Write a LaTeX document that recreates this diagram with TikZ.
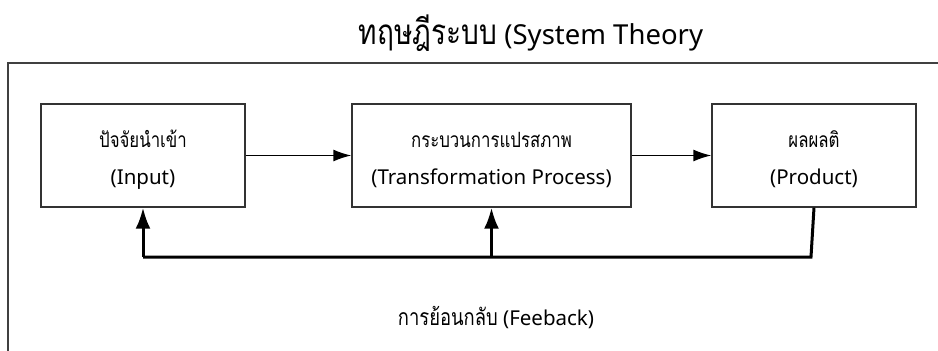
\documentclass[tikz,border=0pt]{standalone}
\usepackage{fontspec}
\usepackage{graphicx}
\setmainfont{Noto Sans}
\newfontfamily\thaifont[Script=Thai]{Loma}
\newcommand{\thaitxt}[2]{\scalebox{0.8}[1]{\thaifont\fontsize{#1}{#1}\selectfont #2}}
\usetikzlibrary{arrows.meta}
\begin{document}
\begin{tikzpicture}[x=1pt,y=-1pt,
  frame/.style={draw=black!75,line width=1.3pt},
  stagebox/.style={draw=black!80,line width=1.4pt,minimum height=103pt,inner sep=0pt},
  flow/.style={line width=1.5pt,-{Latex[length=18pt,width=12pt]}},
  fb/.style={line width=3pt},
  fbarrow/.style={line width=3pt,-{Latex[length=21pt,width=15pt]}},
  latL/.style={font=\fontsize{20.5}{24}\selectfont,inner sep=0pt,anchor=base},
  lbl/.style={inner sep=0pt,anchor=base}]
\useasboundingbox (0,0) rectangle (938,351);
\fill[white] (0,0) rectangle (938,351);
% outer frame
\coordinate (fl) at (8,360);
\coordinate (ftl) at (8,63);
\coordinate (fr) at (945,63);
\draw[frame] (fl) -- (ftl) -- (fr);
% title
\node[lbl] (title) at (531,44) {\thaitxt{35}{ทฤษฎีระบบ}\fontsize{27.5}{30}\selectfont\ (System Theory};
% boxes
\node[stagebox,minimum width=204pt] (in) at (143,155.5) {};
\node[stagebox,minimum width=279pt] (tp) at (491.5,155.5) {};
\node[stagebox,minimum width=204pt] (pr) at (814,155.5) {};
\node[lbl] (in1) at (143,147) {\thaitxt{21}{ปัจจัยนำเข้า}};
\node[latL] (in2) at (143,184) {(Input)};
\node[lbl] (tp1) at (491.5,147) {\thaitxt{21}{กระบวนการแปรสภาพ}};
\node[latL] (tp2) at (491.5,184) {(Transformation Process)};
\node[lbl] (pr1) at (814,147) {\thaitxt{21}{ผลผลติ}};
\node[latL] (pr2) at (814,184) {(Product)};
% forward arrows
\draw[flow] (in.east) -- (tp.west);
\draw[flow] (tp.east) -- (pr.west);
% feedback
\coordinate (fbl) at (143,257);
\coordinate (fbm) at (491.5,257);
\coordinate (fbr) at (811,257);
\draw[fb,line join=miter] (pr.south) -- (fbr) -- (fbl);
\draw[fbarrow] (fbl) -- (in.south);
\draw[fbarrow] (fbm) -- (tp.south);
\node[lbl] (fbtext) at (496,325) {\thaitxt{23}{การย้อนกลับ}\fontsize{20.5}{24}\selectfont\ (Feeback)};
\end{tikzpicture}
\end{document}
